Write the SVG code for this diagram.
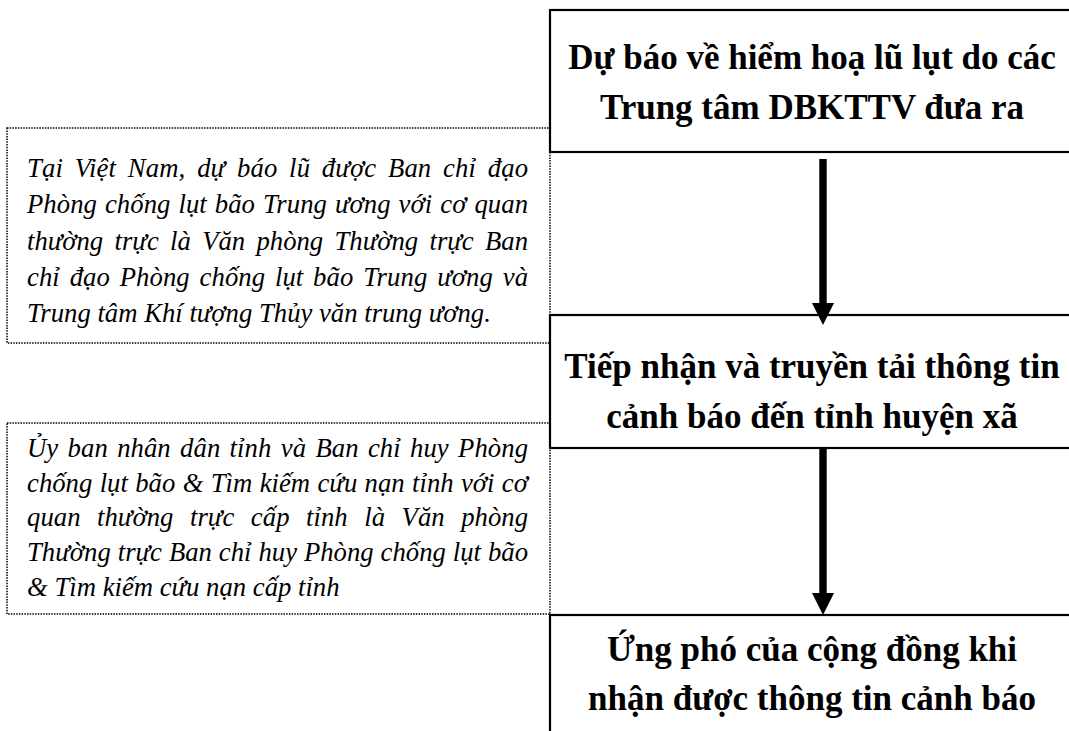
<svg xmlns="http://www.w3.org/2000/svg" width="1069" height="731" viewBox="0 0 1069 731">
<style>
.box{fill:#fff;stroke:#000;stroke-width:2.2}
.dot{fill:none;stroke:#000;stroke-width:1.5;stroke-dasharray:1.5 1.2}
.h{font-family:"Liberation Serif","Times New Roman","DejaVu Serif",serif;font-weight:bold;font-size:35px;text-anchor:middle;fill:#000}
.n{font-family:"Liberation Serif","Times New Roman","DejaVu Serif",serif;font-style:italic;font-size:26.7px;fill:#000}
.conn{stroke:#000;stroke-width:7.4;fill:none}
</style>
<defs>
<marker id="ah" markerUnits="userSpaceOnUse" markerWidth="22" markerHeight="22" viewBox="0 0 22 22" refX="0" refY="11" orient="auto">
<path d="M0,0 L22,11 L0,22 z" fill="#000"/>
</marker>
</defs>
<rect width="1069" height="731" fill="#fff"/>
<g id="note1">
<rect class="dot" x="7" y="128" width="543" height="215"/>
<text class="n" x="27" y="177" word-spacing="5" textLength="501" lengthAdjust="spacing">Tại Việt Nam, dự báo lũ được Ban chỉ đạo</text>
<text class="n" x="27" y="213" word-spacing="1.2" textLength="501" lengthAdjust="spacing">Phòng chống lụt bão Trung ương với cơ quan</text>
<text class="n" x="27" y="249.5" word-spacing="4.7" textLength="501" lengthAdjust="spacing">thường trực là Văn phòng Thường trực Ban</text>
<text class="n" x="27" y="286" word-spacing="3" textLength="501" lengthAdjust="spacing">chỉ đạo Phòng chống lụt bão Trung ương và</text>
<text class="n" x="27" y="322">Trung tâm Khí tượng Thủy văn trung ương.</text>
</g>
<g id="note2">
<rect class="dot" x="7" y="423" width="543" height="191"/>
<text class="n" x="27" y="457" word-spacing="2.6" textLength="501" lengthAdjust="spacing">Ủy ban nhân dân tỉnh và Ban chỉ huy Phòng</text>
<text class="n" x="27" y="491.7" word-spacing="0.6" textLength="501" lengthAdjust="spacing">chống lụt bão &amp; Tìm kiếm cứu nạn tỉnh với cơ</text>
<text class="n" x="27" y="526.4" word-spacing="9.8" textLength="501" lengthAdjust="spacing">quan thường trực cấp tỉnh là Văn phòng</text>
<text class="n" x="27" y="561" word-spacing="0.2" textLength="501" lengthAdjust="spacing">Thường trực Ban chỉ huy Phòng chống lụt bão</text>
<text class="n" x="27" y="596">&amp; Tìm kiếm cứu nạn cấp tỉnh</text>
</g>
<g id="step1">
<rect class="box" x="550" y="10" width="530" height="142"/>
<text class="h" x="812" y="69">Dự báo về hiểm hoạ lũ lụt do các</text>
<text class="h" x="812" y="119">Trung tâm DBKTTV đưa ra</text>
</g>
<g id="step2">
<rect class="box" x="550" y="315" width="530" height="133"/>
<text class="h" x="812" y="378">Tiếp nhận và truyền tải thông tin</text>
<text class="h" x="812" y="428">cảnh báo đến tỉnh huyện xã</text>
</g>
<g id="step3">
<rect class="box" x="550" y="615" width="530" height="140"/>
<text class="h" x="812" y="661">Ứng phó của cộng đồng khi</text>
<text class="h" x="812" y="710">nhận được thông tin cảnh báo</text>
</g>
<g id="connectors">
<line class="conn" x1="823" y1="159" x2="823" y2="303" marker-end="url(#ah)"/>
<line class="conn" x1="823" y1="448" x2="823" y2="593" marker-end="url(#ah)"/>
</g>
</svg>
